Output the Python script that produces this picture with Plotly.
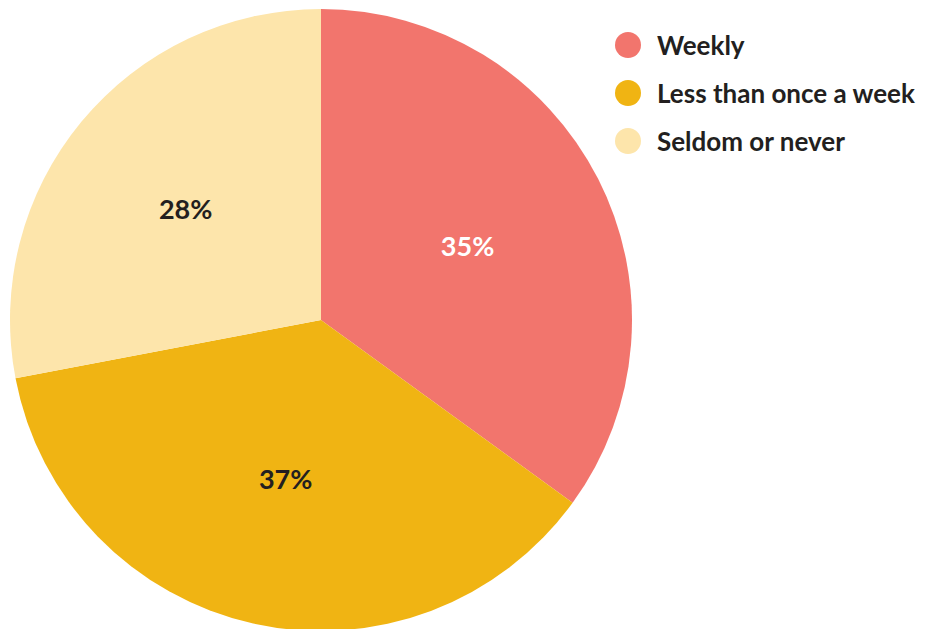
import plotly.graph_objects as go

categories = ["Weekly", "Less than once a week", "Seldom or never"]
values = [35, 37, 28]
colors = ["#F2756D", "#F0B413", "#FDE5AB"]
text_colors = ["#FFFFFF", "#231F20", "#231F20"]

W, H = 938, 629
OFF = 8  # page body margin offset

cx, cy, r = 321 - OFF, 320 - OFF, 311
fig = go.Figure()
fig.add_trace(go.Pie(
    labels=categories, values=values, sort=False, direction="clockwise", rotation=0,
    marker=dict(colors=colors, line=dict(width=0)),
    texttemplate="%{value}%", textposition="inside", insidetextorientation="horizontal",
    textfont=dict(family="Lato", size=27, color=text_colors, weight="bold"),
    showlegend=False, hoverinfo="label+percent",
    domain=dict(x=[(cx - r) / W, (cx + r) / W], y=[1 - (cy + r) / H, 1 - (cy - r) / H]),
))

# custom legend with large circle markers
leg_y = [45 - OFF, 93 - OFF, 141 - OFF]
shapes, annotations = [], []
for name, col, yy in zip(categories, colors, leg_y):
    shapes.append(dict(type="circle", xref="paper", yref="paper", xsizemode="pixel", ysizemode="pixel",
                       xanchor=(628 - OFF) / W, yanchor=1 - yy / H, x0=-13, x1=13, y0=-13, y1=13,
                       fillcolor=col, line=dict(width=0)))
    annotations.append(dict(xref="paper", yref="paper", x=(655 - OFF) / W, y=1 - yy / H, text=name,
                            showarrow=False, xanchor="left", yanchor="middle",
                            font=dict(family="Lato", size=26, color="#231F20", weight="bold")))

fig.update_layout(width=W, height=H, margin=dict(l=0, r=0, t=0, b=0),
                  paper_bgcolor="white", plot_bgcolor="white",
                  shapes=shapes, annotations=annotations)
fig.write_html("out.html")
